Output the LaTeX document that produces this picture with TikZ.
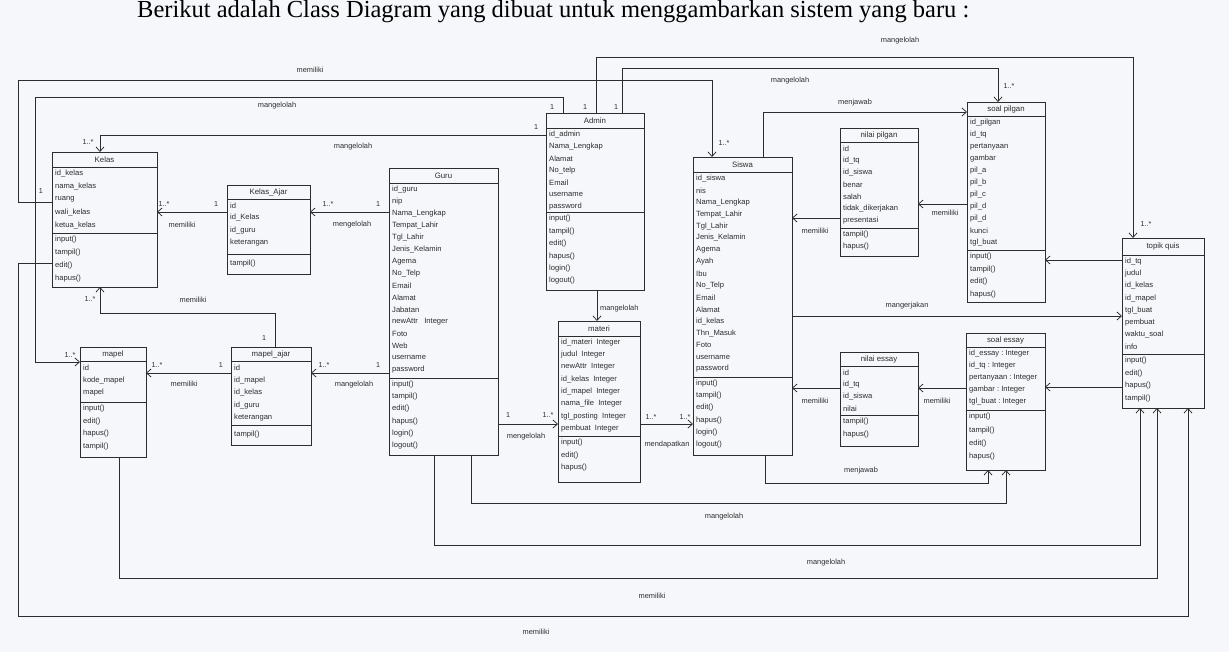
\documentclass[tikz,border=0pt]{standalone}
\usepackage{fontspec}
\setmainfont{Liberation Sans}
\newfontfamily\headfont{Liberation Serif}
\usetikzlibrary{arrows.meta}
\definecolor{bgcol}{RGB}{245,247,250}
\definecolor{inkcol}{RGB}{45,45,45}
\tikzset{
  classbox/.style={draw=inkcol, line width=0.75pt, inner sep=0pt, outer sep=0pt, rectangle},
  classline/.style={draw=inkcol, line width=0.75pt},
  titletext/.style={inner sep=0pt, text=inkcol, font=\fontsize{7.8}{9}\selectfont},
  rowtext/.style={anchor=west, inner sep=0pt, text=inkcol, font=\fontsize{7.6}{9}\selectfont},
  lbl/.style={inner sep=0pt, text=inkcol, font=\fontsize{7.4}{9}\selectfont},
  mult/.style={inner sep=0pt, text=inkcol, font=\fontsize{7.2}{9}\selectfont},
  assoc/.style={draw=inkcol, line width=0.75pt, -{Straight Barb[length=4.5pt,width=8pt]}},
}
\newcommand\umlclass[8]{%
  \node[classbox, minimum width={(#4-#2)*1pt}, minimum height={(#5-#3)*1pt}] (#1) at ({(#2+#4)/2},{(#3+#5)/2}) {};
  \draw[classline] (#1.west |- 0,#6) -- (#1.east |- 0,#6);
  \draw[classline] (#1.west |- 0,#7) -- (#1.east |- 0,#7);
  \node[titletext] (#1-title) at ({(#2+#4)/2},{(#3+#6)/2}) {#8};
}
\newcommand\umlrows[5]{%
  \foreach \rowtxt [count=\ri] in {#5} {%
    \node[rowtext] (#1-\ri) at (#2,{#3+(\ri-1)*#4}) {\rowtxt};
  }%
}
\begin{document}
\begin{tikzpicture}[x=1pt,y=-1pt]
\useasboundingbox (0,0) rectangle (1229,652);
\fill[bgcol] (0,0) rectangle (1229,652);

\node[anchor=base west, inner sep=0pt, font=\headfont\fontsize{24.5}{28}\selectfont] (heading) at (137,17.5) {Berikut adalah Class Diagram yang dibuat untuk menggambarkan sistem yang baru :};

% ---------- classes ----------
\umlclass{kelas}{52}{152}{157}{287}{167}{233}{Kelas}
\umlrows{kelasA}{55}{174}{12.8}{id\_kelas,nama\_kelas,ruang,wali\_kelas,ketua\_kelas}
\umlrows{kelasM}{55}{240}{12.8}{input(),tampil(),edit(),hapus()}

\umlclass{kelasajar}{227}{185}{310}{274}{199}{254}{Kelas\_Ajar}
\umlrows{kajA}{230}{205.5}{12.3}{id,id\_Kelas,id\_guru,keterangan}
\umlrows{kajM}{230}{264}{12}{tampil()}

\umlclass{mapel}{80}{347}{146}{457}{361}{402}{mapel}
\umlrows{mapelA}{83}{368}{12.5}{id,kode\_mapel,mapel}
\umlrows{mapelM}{83}{409}{12.5}{input(),edit(),hapus(),tampil()}

\umlclass{mapelajar}{231}{347}{311}{445}{361}{425}{mapel\_ajar}
\umlrows{majA}{234}{368}{12.5}{id,id\_mapel,id\_kelas,id\_guru,keterangan}
\umlrows{majM}{234}{435}{12}{tampil()}

\umlclass{guru}{389}{168}{498}{455}{183}{378}{Guru}
\umlrows{guruA}{392}{189.5}{12}{id\_guru,nip,Nama\_Lengkap,Tempat\_Lahir,Tgl\_Lahir,Jenis\_Kelamin,Agema,No\_Telp,Email,Alamat,Jabatan,newAttr~~~Integer,Foto,Web,username,password}
\umlrows{guruM}{392}{384.5}{12.2}{input(),tampil(),edit(),hapus(),login(),logout()}

\umlclass{admin}{546}{113}{644}{290}{128}{212}{Admin}
\umlrows{adminA}{549}{134.5}{12}{id\_admin,Nama\_Lengkap,Alamat,No\_telp,Email,username,password}
\umlrows{adminM}{549}{219}{12.4}{input(),tampil(),edit(),hapus(),login(),logout()}

\umlclass{materi}{558}{321}{640}{482}{336}{436}{materi}
\umlrows{materiA}{561}{342.5}{12.3}{id\_materi~~Integer,judul~~Integer,newAttr~~Integer,id\_kelas~~Integer,id\_mapel~~Integer,nama\_file~~Integer,tgl\_posting~~Integer,pembuat~~Integer}
\umlrows{materiM}{561}{443}{12.5}{input(),edit(),hapus()}

\umlclass{siswa}{693}{157}{792}{455}{172}{377}{Siswa}
\umlrows{siswaA}{696}{178.5}{11.9}{id\_siswa,nis,Nama\_Lengkap,Tempat\_Lahir,Tgl\_Lahir,Jenis\_Kelamin,Agema,Ayah,Ibu,No\_Telp,Email,Alamat,id\_kelas,Thn\_Masuk,Foto,username,password}
\umlrows{siswaM}{696}{383.5}{12.2}{input(),tampil(),edit(),hapus(),login(),logout()}

\umlclass{nilaipilgan}{840}{128}{918}{256}{142}{228}{nilai pilgan}
\umlrows{npA}{843}{148.5}{12}{id,id\_tq,id\_siswa,benar,salah,tidak\_dikerjakan,presentasi}
\umlrows{npM}{843}{234.5}{12.5}{tampil(),hapus()}

\umlclass{soalpilgan}{967}{102}{1045}{302}{116}{250}{soal pilgan}
\umlrows{spA}{970}{122.5}{12}{id\_pilgan,id\_tq,pertanyaan,gambar,pil\_a,pil\_b,pil\_c,pil\_d,pil\_d,kunci,tgl\_buat}
\umlrows{spM}{970}{257}{12.5}{input(),tampil(),edit(),hapus()}

\umlclass{topik}{1122}{238}{1204}{408}{255}{354}{topik quis}
\umlrows{tqA}{1125}{261.5}{12.2}{id\_tq,judul,id\_kelas,id\_mapel,tgl\_buat,pembuat,waktu\_soal,info}
\umlrows{tqM}{1125}{361}{12.5}{input(),edit(),hapus(),tampil()}

\umlclass{nilaiessay}{840}{352}{918}{446}{366}{415}{nilai essay}
\umlrows{neA}{843}{372.5}{12}{id,id\_tq,id\_siswa,nilai}
\umlrows{neM}{843}{422}{12.5}{tampil(),hapus()}

\umlclass{soalessay}{966}{333}{1045}{470}{347}{410}{soal essay}
\umlrows{seA}{969}{353.5}{12}{id\_essay~:~Integer,id\_tq~:~Integer,pertanyaan~:~Integer,gambar~:~Integer,tgl\_buat~:~Integer}
\umlrows{seM}{969}{417}{13.3}{input(),tampil(),edit(),hapus()}

% ---------- connectors ----------
\draw[assoc] (kelas.west |- 0,202) -- (18,202) -- (18,80) -- (712,80) -- (siswa.north -| 712,0);
\draw[assoc] (admin.north -| 563,0) -- (563,97) -- (35,97) -- (35,362) -- (mapel.west |- 0,362);
\draw[assoc] (admin.west |- 0,135) -- (100,135) -- (kelas.north -| 100,0);
\draw[assoc] (admin.north -| 596,0) -- (596,57) -- (1133,57) -- (topik.north -| 1133,0);
\draw[assoc] (admin.north -| 622,0) -- (622,68) -- (998,68) -- (soalpilgan.north -| 998,0);
\draw[assoc] (kelasajar.west |- 0,212) -- (kelas.east |- 0,212);
\draw[assoc] (guru.west |- 0,212) -- (kelasajar.east |- 0,212);
\draw[assoc] (mapelajar.north -| 275,0) -- (275,313) -- (100,313) -- (kelas.south -| 100,0);
\draw[assoc] (mapelajar.west |- 0,373) -- (mapel.east |- 0,373);
\draw[assoc] (guru.west |- 0,373) -- (mapelajar.east |- 0,373);
\draw[assoc] (admin.south -| 597,0) -- (materi.north -| 597,0);
\draw[assoc] (guru.east |- 0,424) -- (materi.west |- 0,424);
\draw[assoc] (materi.east |- 0,424) -- (siswa.west |- 0,424);
\draw[assoc] (siswa.north -| 763,0) -- (763,112) -- (soalpilgan.west |- 0,112);
\draw[assoc] (nilaipilgan.west |- 0,218) -- (siswa.east |- 0,218);
\draw[assoc] (soalpilgan.west |- 0,204) -- (nilaipilgan.east |- 0,204);
\draw[assoc] (topik.west |- 0,260) -- (soalpilgan.east |- 0,260);
\draw[assoc] (siswa.east |- 0,316) -- (topik.west |- 0,316);
\draw[assoc] (topik.west |- 0,387) -- (soalessay.east |- 0,387);
\draw[assoc] (soalessay.west |- 0,388) -- (nilaiessay.east |- 0,388);
\draw[assoc] (nilaiessay.west |- 0,388) -- (siswa.east |- 0,388);
\draw[assoc] (siswa.south -| 765,0) -- (765,483) -- (988,483) -- (soalessay.south -| 988,0);
\draw[assoc] (guru.south -| 471,0) -- (471,503) -- (1006,503) -- (soalessay.south -| 1006,0);
\draw[assoc] (guru.south -| 434,0) -- (434,545) -- (1140,545) -- (topik.south -| 1140,0);
\draw[assoc] (mapel.south -| 119,0) -- (119,578) -- (1157,578) -- (topik.south -| 1157,0);
\draw[assoc] (kelas.west |- 0,263) -- (18,263) -- (18,616) -- (1188,616) -- (topik.south -| 1188,0);

% ---------- association labels ----------
\node[lbl] (l1) at (310,70) {memiliki};
\node[lbl] (l2) at (277,106) {mangelolah};
\node[lbl] (l3) at (353,147) {mangelolah};
\node[lbl] (l4) at (182,225) {memiliki};
\node[lbl] (l5) at (352,225) {mengelolah};
\node[lbl] (l6) at (193,300) {memiliki};
\node[lbl] (l7) at (184,384) {memiliki};
\node[lbl] (l8) at (354,385) {mangelolah};
\node[lbl, anchor=west] (l9) at (600,309) {mangelolah};
\node[lbl] (l10) at (526,437) {mengelolah};
\node[lbl] (l11) at (667,445) {mendapatkan};
\node[lbl] (l12) at (900,41) {mangelolah};
\node[lbl] (l13) at (790,81) {mangelolah};
\node[lbl] (l14) at (855,103) {menjawab};
\node[lbl] (l15) at (815,231) {memiliki};
\node[lbl] (l16) at (945,213) {memiliki};
\node[lbl] (l17) at (907,306) {mangerjakan};
\node[lbl] (l18) at (815,401) {memiliki};
\node[lbl] (l19) at (937,401) {memiliki};
\node[lbl] (l20) at (861,471) {menjawab};
\node[lbl] (l21) at (724,517) {mangelolah};
\node[lbl] (l22) at (826,563) {mangelolah};
\node[lbl] (l23) at (652,596) {memiliki};
\node[lbl] (l24) at (536,632) {memiliki};

% ---------- multiplicities ----------
\node[mult] (m1) at (88,142) {1..*};
\node[mult] (m2) at (41,191) {1};
\node[mult] (m3) at (164,204) {1..*};
\node[mult] (m4) at (216,204) {1};
\node[mult] (m5) at (328,204) {1..*};
\node[mult] (m6) at (378,204) {1};
\node[mult] (m7) at (90,299) {1..*};
\node[mult] (m8) at (264,338) {1};
\node[mult] (m9) at (70,355) {1..*};
\node[mult] (m10) at (157,365) {1..*};
\node[mult] (m11) at (221,365) {1};
\node[mult] (m12) at (324,365) {1..*};
\node[mult] (m13) at (378,365) {1};
\node[mult] (m14) at (536,127) {1};
\node[mult] (m15) at (552,107) {1};
\node[mult] (m16) at (585,107) {1};
\node[mult] (m17) at (616,107) {1};
\node[mult] (m18) at (724,143) {1..*};
\node[mult] (m19) at (1009,86) {1..*};
\node[mult] (m20) at (1146,224) {1..*};
\node[mult] (m21) at (508,415) {1};
\node[mult] (m22) at (548,415) {1..*};
\node[mult] (m23) at (651,417) {1..*};
\node[mult] (m24) at (685,417) {1..*};
\end{tikzpicture}
\end{document}
